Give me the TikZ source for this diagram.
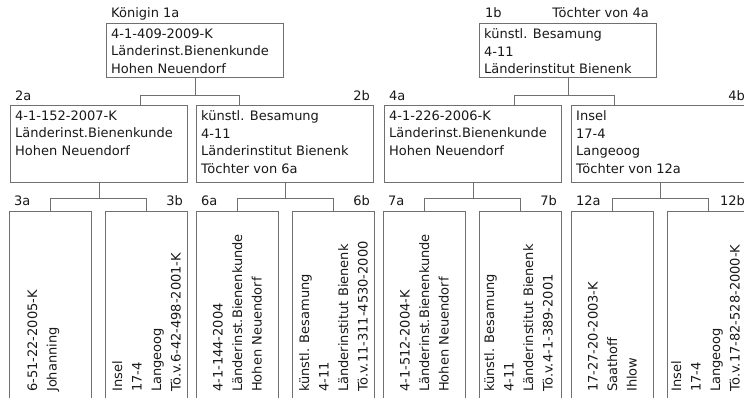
\documentclass[tikz,border=0pt]{standalone}
\usepackage{fontspec}
\setmainfont{DejaVu Sans}
\usetikzlibrary{positioning,calc}
\definecolor{boxgray}{RGB}{112,112,112}
\definecolor{inkcolor}{RGB}{25,25,25}

\begin{document}
\begin{tikzpicture}[x=1pt,y=-1pt,
    queen/.style={draw=boxgray,line width=1pt,anchor=north west,inner sep=0pt,minimum width=177pt},
    tall/.style={queen,minimum width=82pt,minimum height=200pt},
    info/.style={anchor=north west,align=left,inner sep=0pt,text=inkcolor,font=\fontsize{13}{17.5}\selectfont},
    vinfo/.style={rotate=90,anchor=west,align=left,inner sep=0pt,text=inkcolor,font=\fontsize{13}{19.5}\selectfont},
    tag/.style={inner sep=0pt,text=inkcolor,font=\fontsize{13}{15}\selectfont},
    conn/.style={draw=boxgray,line width=1pt}]
    \useasboundingbox (0,0) rectangle (744,398);
    \fill[white] (0,0) rectangle (744,398);
    \clip (0,0) rectangle (744,398);

    % Queens on top
    \node[queen,minimum height=54pt] (k1a) at (106,23) {};
    \node[queen,minimum height=54pt] (k1b) at (479,23) {};
    \node[tag,anchor=base west] (t1a) at ($(k1a.north west)+(5,-5)$) {Königin 1a};
    \node[tag,anchor=base west] (t1b) at ($(k1b.north west)+(6,-5)$) {1b};
    \node[tag,anchor=base east] (n1b) at ($(k1b.north east)+(-8,-5)$) {Töchter von 4a};
    \node[info] (i1a) at ($(k1a.north west)+(5,5.5)$) {4-1-409-2009-K\\Länderinst.Bienenkunde\\Hohen Neuendorf};
    \node[info] (i1b) at ($(k1b.north west)+(5,5.5)$) {künstl. Besamung\\4-11\\Länderinstitut Bienenk};

    % Second row
    \foreach \id/\x in {2a/10,2b/196,4a/384,4b/571}
        \node[queen,minimum height=77pt] (k\id) at (\x,105) {};
    \foreach \id in {2a,4a}
        \node[tag,anchor=base west] (t\id) at ($(k\id.north west)+(5,-4)$) {\id};
    \foreach \id in {2b,4b}
        \node[tag,anchor=base east] (t\id) at ($(k\id.north east)+(-4,-4)$) {\id};
    \node[info] (i2a) at ($(k2a.north west)+(5,5.5)$) {4-1-152-2007-K\\Länderinst.Bienenkunde\\Hohen Neuendorf};
    \node[info] (i2b) at ($(k2b.north west)+(5,5.5)$) {künstl. Besamung\\4-11\\Länderinstitut Bienenk\\Töchter von 6a};
    \node[info] (i4a) at ($(k4a.north west)+(5,5.5)$) {4-1-226-2006-K\\Länderinst.Bienenkunde\\Hohen Neuendorf};
    \node[info] (i4b) at ($(k4b.north west)+(5,5.5)$) {Insel\\17-4\\Langeoog\\Töchter von 12a};

    % Third row, written upwards
    \foreach \id/\x in {3a/9,3b/105,6a/196,6b/292,7a/383,7b/479,12a/571,12b/667}
        \node[tall] (k\id) at (\x,211) {};
    \foreach \id in {3a,6a,7a,12a}
        \node[tag,anchor=base west] (t\id) at ($(k\id.north west)+(5,-5)$) {\id};
    \foreach \id in {3b,6b,7b,12b}
        \node[tag,anchor=base east] (t\id) at ($(k\id.north east)+(-5,-5)$) {\id};
    \node[vinfo] (i3a) at ($(k3a.north)+(-7,181)$) {6-51-22-2005-K\\Johanning};
    \node[vinfo] (i3b) at ($(k3b.north)+(0,181)$) {Insel\\17-4\\Langeoog\\Tö.v.6-42-498-2001-K};
    \node[vinfo] (i6a) at ($(k6a.north)+(0,181)$) {4-1-144-2004\\Länderinst.Bienenkunde\\Hohen Neuendorf};
    \node[vinfo] (i6b) at ($(k6b.north)+(0,181)$) {künstl. Besamung\\4-11\\Länderinstitut Bienenk\\Tö.v.11-311-4530-2000};
    \node[vinfo] (i7a) at ($(k7a.north)+(0,181)$) {4-1-512-2004-K\\Länderinst.Bienenkunde\\Hohen Neuendorf};
    \node[vinfo] (i7b) at ($(k7b.north)+(-2,181)$) {künstl. Besamung\\4-11\\Länderinstitut Bienenk\\Tö.v.4-1-389-2001};
    \node[vinfo] (i12a) at ($(k12a.north)+(0,181)$) {17-27-20-2003-K\\Saathoff\\Ihlow};
    \node[vinfo] (i12b) at ($(k12b.north)+(-3,181)$) {Insel\\17-4\\Langeoog\\Tö.v.17-82-528-2000-K};

    % Connectors
    \foreach \up/\a/\b in {1a/2a/2b,1b/4a/4b}{
        \draw[conn] (k\up.south) -- ++(0,18) -| ([xshift=41pt]k\a.north);
        \draw[conn] (k\up.south) -- ++(0,18) -| ([xshift=-46pt]k\b.north);
    }
    \foreach \up/\a/\b in {2a/3a/3b,2b/6a/6b,4a/7a/7b,4b/12a/12b}{
        \draw[conn] (k\up.south) -- ++(0,16) -| (k\a.north);
        \draw[conn] (k\up.south) -- ++(0,16) -| (k\b.north);
    }
\end{tikzpicture}
\end{document}
